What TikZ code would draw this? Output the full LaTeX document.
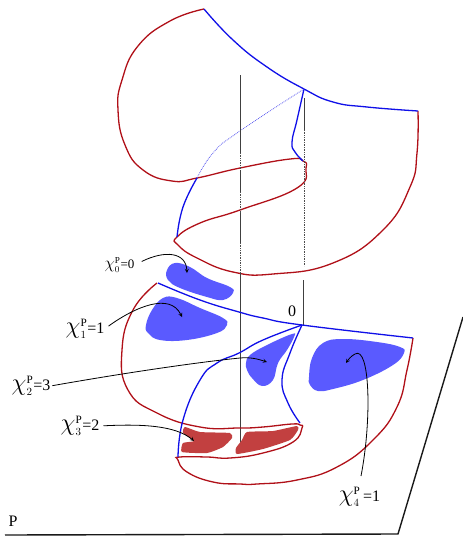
\documentclass[tikz,border=0pt]{standalone}
\usepackage{amsmath}
\usepackage{graphicx}
\usepackage{fontspec}
\setmainfont{Liberation Serif}
\usepackage{tikz}
\usetikzlibrary{arrows, positioning, calc}

\definecolor{sheetred}{RGB}{176,16,24}
\definecolor{sheetblue}{RGB}{16,16,232}
\definecolor{blobblue}{RGB}{90,90,255}
\definecolor{blobred}{RGB}{194,64,64}

\newcommand{\chilab}[2]{$\scalebox{1.4}{$\chi$}^{\mathrm{P}}_{#1}$#2}

\begin{document}
\begin{tikzpicture}[
   x=1pt, y=-1pt,
   redline/.style={draw=sheetred, line width=1.3pt},
   blueline/.style={draw=sheetblue, line width=1.3pt},
   bluedots/.style={draw=sheetblue!70, line width=0.8pt, densely dotted},
   axis/.style={draw=black!75, line width=1pt},
   axisdots/.style={draw=black!70, line width=0.7pt, densely dotted},
   blueblob/.style={fill=blobblue},
   redblob/.style={fill=blobred},
   pointer/.style={draw=black, line width=0.8pt, -stealth},
   plane/.style={draw=black!90, line width=1.4pt},
   chilabel/.style={inner sep=0pt, font=\fontsize{16}{16}\selectfont}
]
   \useasboundingbox (0,0) rectangle (463,536);

   % Plane
   \coordinate (p1) at (5,535);
   \coordinate (p2) at (398,534);
   \coordinate (p3) at (463,317);
   \draw[plane] (p1) -- (p2) -- (p3);
   \node[chilabel] (planelabel) at (13,521) {P};

   % Upper sheet, red rim
   \draw[redline] plot[smooth, tension=0.8] coordinates {(204,9) (170,21) (138,46) (122,80) (118,110) (125,145) (143,170) (172,181) (197,178) (240,168) (290,159) (303,161) (306,168) (297,188) (240,210) (200,223) (177,237) (178,245) (197,258) (233,272) (273,274) (333,263) (383,230) (410,187) (417,153) (418,111)};

   % Upper sheet, blue edges
   \draw[blueline] plot[smooth, tension=0.8] coordinates {(204,9) (233,40) (267,67) (304,89) (333,102) (367,107) (418,111)};
   \draw[blueline] plot[smooth, tension=0.8] coordinates {(304,89) (297,120) (292,142) (295,152) (303,161)};
   \draw[blueline] plot[smooth, tension=0.8] coordinates {(197,178) (183,207) (177,237)};
   \draw[bluedots] plot[smooth, tension=0.8] coordinates {(304,89) (237,133) (213,153) (197,178)};

   % Axes
   \coordinate (a1) at (240,75);
   \coordinate (a2) at (240,153);
   \coordinate (a3) at (240,170);
   \coordinate (a4) at (240,192);
   \coordinate (a5) at (240,213);
   \coordinate (a6) at (240,243);
   \coordinate (a7) at (240,273);
   \coordinate (a8) at (240,445);
   \draw[axis] (a1) -- (a2) (a3) -- (a4) (a5) -- (a6) (a7) -- (a8);
   \draw[axisdots] (a2) -- (a3) (a4) -- (a5) (a6) -- (a7);
   \coordinate (b1) at (304,98);
   \coordinate (b2) at (304,130);
   \coordinate (b3) at (304,266);
   \coordinate (b4) at (303,280);
   \coordinate (b5) at (303,325);
   \draw[axis] (b1) -- (b2) (b4) -- (b5);
   \draw[axisdots] (b2) -- (b3);
   \node[chilabel] (origin) at (292,311) {0};

   % Blobs
   \fill[blueblob] plot[smooth cycle, tension=0.7] coordinates {(167,270) (175,263) (190,267) (207,278) (230,287) (233,293) (223,300) (207,297) (180,288) (168,280)};
   \fill[blueblob] plot[smooth cycle, tension=0.7] coordinates {(146,325) (152,310) (163,298) (177,298) (200,308) (223,318) (227,325) (217,333) (187,340) (160,340) (148,333)};
   \fill[blueblob] plot[smooth cycle, tension=0.7] coordinates {(246,363) (250,355) (267,345) (292,334) (294,337) (287,350) (278,363) (273,380) (262,386) (252,378) (247,370)};
   \fill[blueblob] plot[smooth cycle, tension=0.7] coordinates {(309,377) (312,358) (323,343) (343,339) (377,342) (400,347) (404,353) (393,365) (363,380) (333,389) (318,391) (310,385)};
   \fill[redblob] plot[smooth cycle, tension=0.3] coordinates {(185,427) (200,432) (230,433) (232,438) (223,447) (207,453) (182,452) (183,443) (194,441) (183,433)};
   \fill[redblob] plot[smooth cycle, tension=0.3] coordinates {(247,432) (273,431) (297,426) (298,430) (290,440) (263,449) (237,454) (236,448) (242,440)};

   % Lower sheet, red rim
   \draw[redline] plot[smooth, tension=0.8] coordinates {(157,283) (133,310) (122,350) (128,390) (157,413) (200,427) (239,428) (263,427) (292,424) (300,425) (302,428) (293,442) (263,453) (230,458) (207,457) (180,457) (178,460) (187,472) (213,482) (240,484) (257,484) (297,480) (337,467) (373,440) (397,407) (407,370) (413,338)};

   % Lower sheet, blue edges
   \draw[blueline] plot[smooth, tension=0.8] coordinates {(158,283) (200,300) (239,312) (263,318) (302,325) (413,338)};
   \draw[blueline] plot[smooth, tension=0.8] coordinates {(302,325) (263,340) (239,353) (217,363) (200,380) (183,420) (178,457)};
   \draw[blueline] plot[smooth, tension=0.8] coordinates {(302,325) (290,353) (282,380) (288,403) (300,423)};

   % Labels
   \node[chilabel, font=\fontsize{13}{13}\selectfont] (chi0) at (119.5,265) {\chilab{0}{=0}};
   \node[chilabel] (chi1) at (85,329) {\chilab{1}{=1}};
   \node[chilabel] (chi2) at (31,386) {\chilab{2}{=3}};
   \node[chilabel] (chi3) at (80,426) {\chilab{3}{=2}};
   \node[chilabel] (chi4) at (359.5,497) {\chilab{4}{\,=1}};

   % Arrows from labels to regions
   \coordinate (tip0) at (187,273);
   \coordinate (tip1) at (182,317);
   \coordinate (tip2) at (267,362);
   \coordinate (tip3) at (194,441);
   \coordinate (tip4) at (346,363);
   \draw[pointer, shorten <=8pt] (chi0.east) .. controls (165,250) and (186,252) .. (tip0);
   \draw[pointer, shorten <=5pt] (chi1.east) .. controls (135,307) and (170,292) .. (tip1);
   \draw[pointer, shorten <=2pt] (chi2.east) .. controls (130,372) and (200,362) .. (240,358) .. controls (250,357) and (258,359) .. (tip2);
   \draw[pointer, shorten <=4pt] (chi3.east) .. controls (140,424) and (175,425) .. (tip3);
   \draw[pointer] (361,476) .. controls (372,420) and (370,345) .. (355,354) .. controls (351,356) and (348,360) .. (tip4);
\end{tikzpicture}
\end{document}
